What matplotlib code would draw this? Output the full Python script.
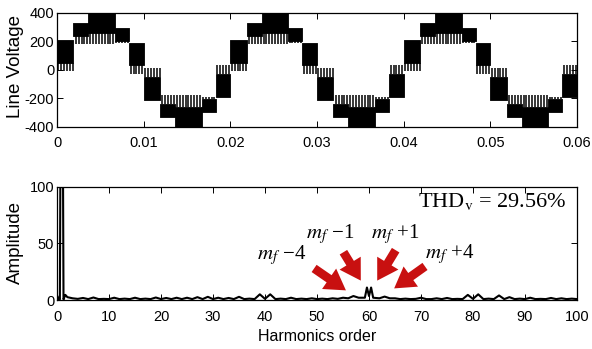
import numpy as np
import matplotlib.pyplot as plt
from matplotlib.patches import FancyArrowPatch

plt.rcParams['font.family'] = ['Liberation Sans', 'DejaVu Sans']
plt.rcParams['mathtext.fontset'] = 'stix'
plt.rcParams['axes.unicode_minus'] = False

# ---- line voltage: stepped PWM bands for one fundamental period
period = 0.02
cycles = [0.0, 0.02, 0.04]
mf = 60
seg_edges = [0, 0.0019, 0.0036, 0.0067, 0.0083, 0.0100, 0.0119, 0.0136, 0.0167, 0.0183, 0.0200]
core_low = [50, 240, 262, 206, 31, -210, -332, -420, -297, -192]
core_high = [210, 332, 420, 297, 192, -50, -240, -262, -206, -31]
tooth_end = [-10, 178, 178, 190, -30, 10, -178, -178, -190, 30]

# ---- harmonic spectrum
harm_order = [0, 0.3, 0.55, 0.9, 1.25, 1.6] + list(range(2, 59)) + \
             [59.2, 59.6, 60.0, 60.4, 60.8] + list(range(62, 101))
harm_amp = [4, 1, 0.5, 400, 0.5, 4.5,
            2.5, 1.5, 1.0, 1.8, 0.8, 2.2, 0.8, 1.0, 0.8, 2.0,
            0.8, 1.2, 0.8, 2.0, 0.8, 1.2, 0.8, 2.2, 0.8, 1.8,
            0.8, 2.0, 0.8, 2.0, 0.8, 2.5, 0.8, 2.8, 0.8, 2.0,
            0.8, 1.8, 0.8, 2.8, 0.8, 1.2, 0.8, 5.0, 1.0, 5.0,
            0.8, 1.2, 0.8, 2.0, 0.8, 1.2, 0.8, 1.5, 0.8, 1.2,
            0.8, 1.5, 1.0, 2.0, 1.5, 3.5, 2.0,
            2.0, 11, 3.5, 11, 2.0,
            1.5, 3.0, 1.5, 1.5, 0.8, 1.2, 0.8, 1.0, 2.0, 0.8,
            0.8, 1.5, 0.8, 1.8, 0.8, 1.0, 0.8, 4.5, 1.0, 5.0,
            0.8, 1.2, 0.8, 4.0, 0.8, 2.5, 0.8, 1.2, 0.8, 2.0,
            0.8, 1.0, 0.8, 1.8, 0.8, 1.5, 0.8, 1.2, 0.8]

top_xticks = [0, 0.01, 0.02, 0.03, 0.04, 0.05, 0.06]
top_xticklabels = ['0', '0.01', '0.02', '0.03', '0.04', '0.05', '0.06']
top_yticks = [-400, -200, 0, 200, 400]
bot_xticks = list(range(0, 101, 10))
bot_yticks = [0, 50, 100]

# arrow tails / heads in (order, amplitude)
arrow_tail = [(49.0, 29.2), (54.8, 44.2), (65.4, 46.0), (71.2, 31.0)]
arrow_head = [(56.0, 7.1), (58.7, 15.0), (61.3, 15.0), (64.4, 8.8)]
label_text = ['$m_f$ \u22124', '$m_f$ \u22121', '$m_f$ +1', '$m_f$ +4']
label_pos = [(43.1, 39.8), (52.5, 58.4), (65.0, 58.4), (75.4, 40.7)]
thd_text = 'THD$_\\mathrm{v}$ = 29.56%'

fig = plt.figure(figsize=(5.92, 3.49), dpi=100)
ax1 = fig.add_axes([0.0963, 0.6375, 0.8784, 0.3253])
ax2 = fig.add_axes([0.0963, 0.1404, 0.8784, 0.3252])

tc = period / mf
for c in cycles:
    for i in range(len(core_low)):
        t0, t1 = c + seg_edges[i], c + seg_edges[i + 1]
        ax1.fill_between([t0, t1], [core_low[i]] * 2, [core_high[i]] * 2,
                         color='black', lw=0.6, edgecolor='black')
        k = np.arange(np.ceil(t0 / tc - 0.5), np.floor(t1 / tc - 0.5) + 1)
        tt = (k + 0.5) * tc
        tt = tt[(tt > t0) & (tt < t1)]
        base = core_low[i] if tooth_end[i] < core_low[i] else core_high[i]
        ax1.vlines(tt, base, tooth_end[i], color='black', lw=1.1)

ax1.set_xlim(0, 0.06)
ax1.set_ylim(-400, 400)
ax1.set_xticks(top_xticks)
ax1.set_xticklabels(top_xticklabels)
ax1.set_yticks(top_yticks)
ax1.set_ylabel('Line Voltage', fontsize=13.5)
ax1.yaxis.set_label_coords(-0.0635, 0.53)

ax2.plot(harm_order, harm_amp, color='black', lw=1.5)
ax2.set_xlim(0, 100)
ax2.set_ylim(0, 100)
ax2.set_xticks(bot_xticks)
ax2.set_yticks(bot_yticks)
ax2.set_ylabel('Amplitude', fontsize=13.5)
ax2.yaxis.set_label_coords(-0.0635, 0.507)
ax2.set_xlabel('Harmonics order', fontsize=11.5)
ax2.xaxis.set_label_coords(0.5, -0.255)

red = '#c81010'
for tail, head in zip(arrow_tail, arrow_head):
    ax2.add_patch(FancyArrowPatch(tail, head,
                                  arrowstyle='simple,head_width=1.7,head_length=1.4,tail_width=0.6',
                                  mutation_scale=10.5, color=red, lw=0))
for txt, pos in zip(label_text, label_pos):
    ax2.text(pos[0], pos[1], txt, fontsize=15, ha='center', va='center',
             family=['Liberation Serif', 'DejaVu Serif'])
ax2.text(98, 86.5, thd_text, fontsize=16, ha='right', va='center',
         family=['Liberation Serif', 'DejaVu Serif'])

for ax in (ax1, ax2):
    ax.tick_params(direction='in', top=True, right=True, length=4, width=0.7,
                   labelsize=10.5)
    ax.tick_params(axis='x', pad=7)
    ax.tick_params(axis='y', pad=2)
    for s in ax.spines.values():
        s.set_linewidth(0.9)

fig.savefig('out.png', dpi=100)
